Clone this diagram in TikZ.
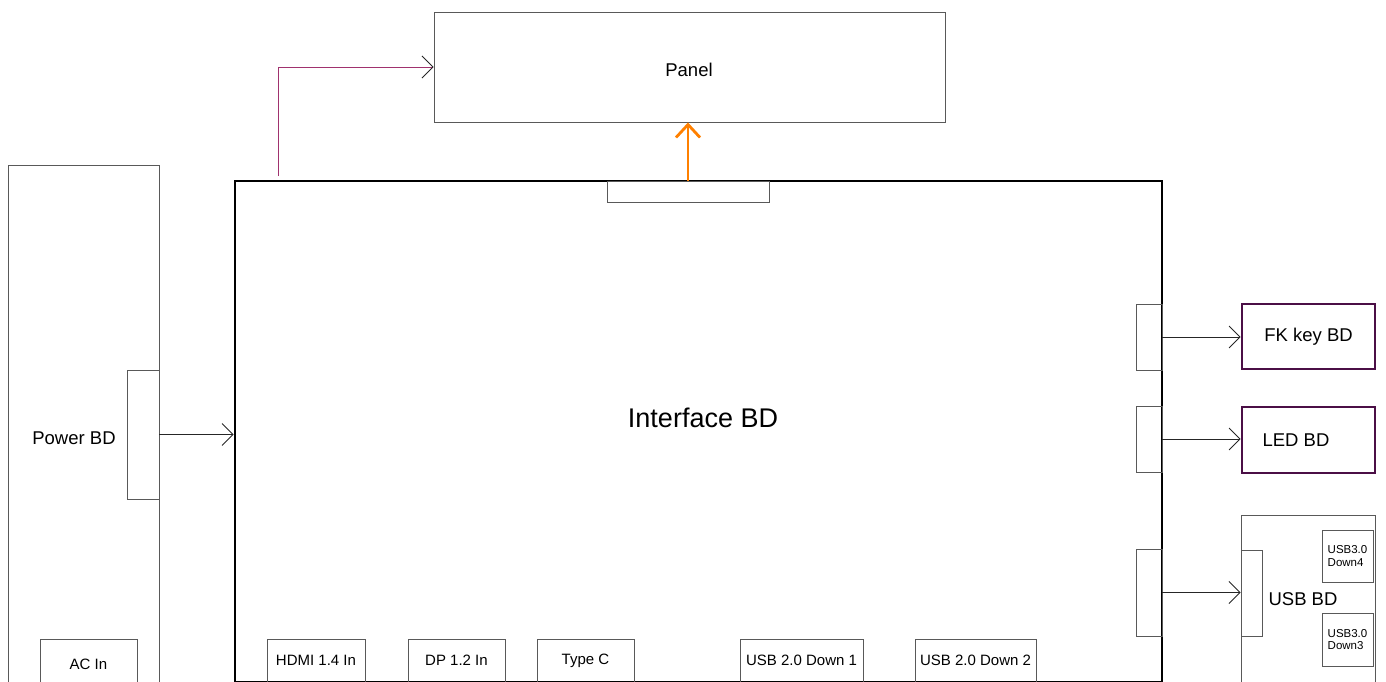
\documentclass[tikz,border=0pt]{standalone}
\usepackage{fontspec}
\setmainfont{Liberation Sans}
\usepackage{tikz}
\usetikzlibrary{arrows.meta,positioning,calc}
\usepackage{xcolor}
\definecolor{wirepurple}{RGB}{160,50,110}
\definecolor{darkplum}{RGB}{75,15,70}
\definecolor{orange}{RGB}{255,128,0}
\definecolor{boxgray}{gray}{0.35}

\begin{document}
\begin{tikzpicture}[x=1pt, y=-1pt,
    board/.style={draw=boxgray, line width=0.9pt, inner sep=0pt, font=\fontsize{18.5}{22}\selectfont},
    conn/.style={draw=boxgray, line width=0.9pt, inner sep=0pt},
    port/.style={draw=boxgray, line width=0.9pt, inner sep=0pt, font=\fontsize{15}{17}\selectfont},
    subboard/.style={draw=darkplum, line width=2.6pt, inner sep=0pt, font=\fontsize{18.5}{22}\selectfont},
    txt/.style={inner sep=0pt, font=\fontsize{18.5}{22}\selectfont},
    link/.style={draw=black!85, line width=0.9pt, -{Straight Barb[length=11pt, width=22pt, color=black!85]}}]
        \useasboundingbox (0,0) rectangle (1386,682);
        % panel and power board
        \node[board, minimum width=511, minimum height=110] (panel) at (689.5,67) {};
        \node[txt] (panellbl) at (689,70) {Panel};
        \node[board, minimum width=151, minimum height=535] (power) at (83.5,432.5) {};
        \node[txt] (powerlbl) at (74,438) {Power BD};
        \node[conn, minimum width=32, minimum height=129] (powercon) at (143,434.5) {};
        \node[port, minimum width=97, minimum height=50] (acin) at (88.5,664) {AC In};
        % interface board
        \node[draw=black, line width=2.6pt, inner sep=0pt, minimum width=927, minimum height=501] (iface) at (698.5,431.5) {};
        \node[inner sep=0pt, font=\fontsize{27}{30}\selectfont] (ifacelbl) at (703,418) {Interface BD};
        \node[conn, minimum width=162, minimum height=21] (ifacetop) at (688,191.5) {};
        \node[conn, minimum width=26, minimum height=66] (fkcon) at (1149,337) {};
        \node[conn, minimum width=26, minimum height=66] (ledcon) at (1149,439) {};
        \node[conn, minimum width=26, minimum height=87] (usbcon) at (1149,592.5) {};
        % input ports
        \node[port, minimum width=98, minimum height=43] (hdmi) at (316,660.5) {HDMI 1.4 In};
        \node[port, minimum width=97, minimum height=43] (dp) at (456.5,660.5) {DP 1.2 In};
        \node[port, minimum width=97, minimum height=43] (typec) at (585.5,660.5) {Type C};
        \node[port, minimum width=123, minimum height=43] (usbdown1) at (801.5,660.5) {USB 2.0 Down 1};
        \node[port, minimum width=121, minimum height=43] (usbdown2) at (975.5,660.5) {USB 2.0 Down 2};
        % side boards
        \node[subboard, minimum width=133, minimum height=65] (fkkey) at (1308.5,336.5) {FK key BD};
        \node[subboard, minimum width=133, minimum height=66] (led) at (1308.5,440) {};
        \node[txt] (ledlbl) at (1296,440) {LED BD};
        \node[board, minimum width=134, minimum height=185] (usb) at (1308,607.5) {};
        \node[txt] (usblbl) at (1303,599) {USB BD};
        \node[conn, minimum width=21, minimum height=86] (usbin) at (1251.5,593) {};
        \node[conn, minimum width=51, minimum height=52, align=left, font=\fontsize{11.5}{12.5}\selectfont] (down4) at (1347.5,556) {USB3.0\\Down4};
        \node[conn, minimum width=51, minimum height=53, align=left, font=\fontsize{11.5}{12.5}\selectfont] (down3) at (1347.5,639.5) {USB3.0\\Down3};
        % links
        \coordinate (tap) at (278,176);
        \draw[link, draw=wirepurple] (tap) |- (panel.west);
        \draw[draw=orange, line width=2.8pt, -{Straight Barb[length=13pt, width=24pt]}] (ifacetop.north) -- (ifacetop.north |- panel.south);
        \draw[link] (powercon.east) -- (iface.west |- powercon.east);
        \draw[link] (fkcon.east) -- (fkkey.west |- fkcon.east);
        \draw[link] (ledcon.east) -- (led.west |- ledcon.east);
        \draw[link] (usbcon.east) -- (usbin.west |- usbcon.east);
    \end{tikzpicture}
\end{document}
